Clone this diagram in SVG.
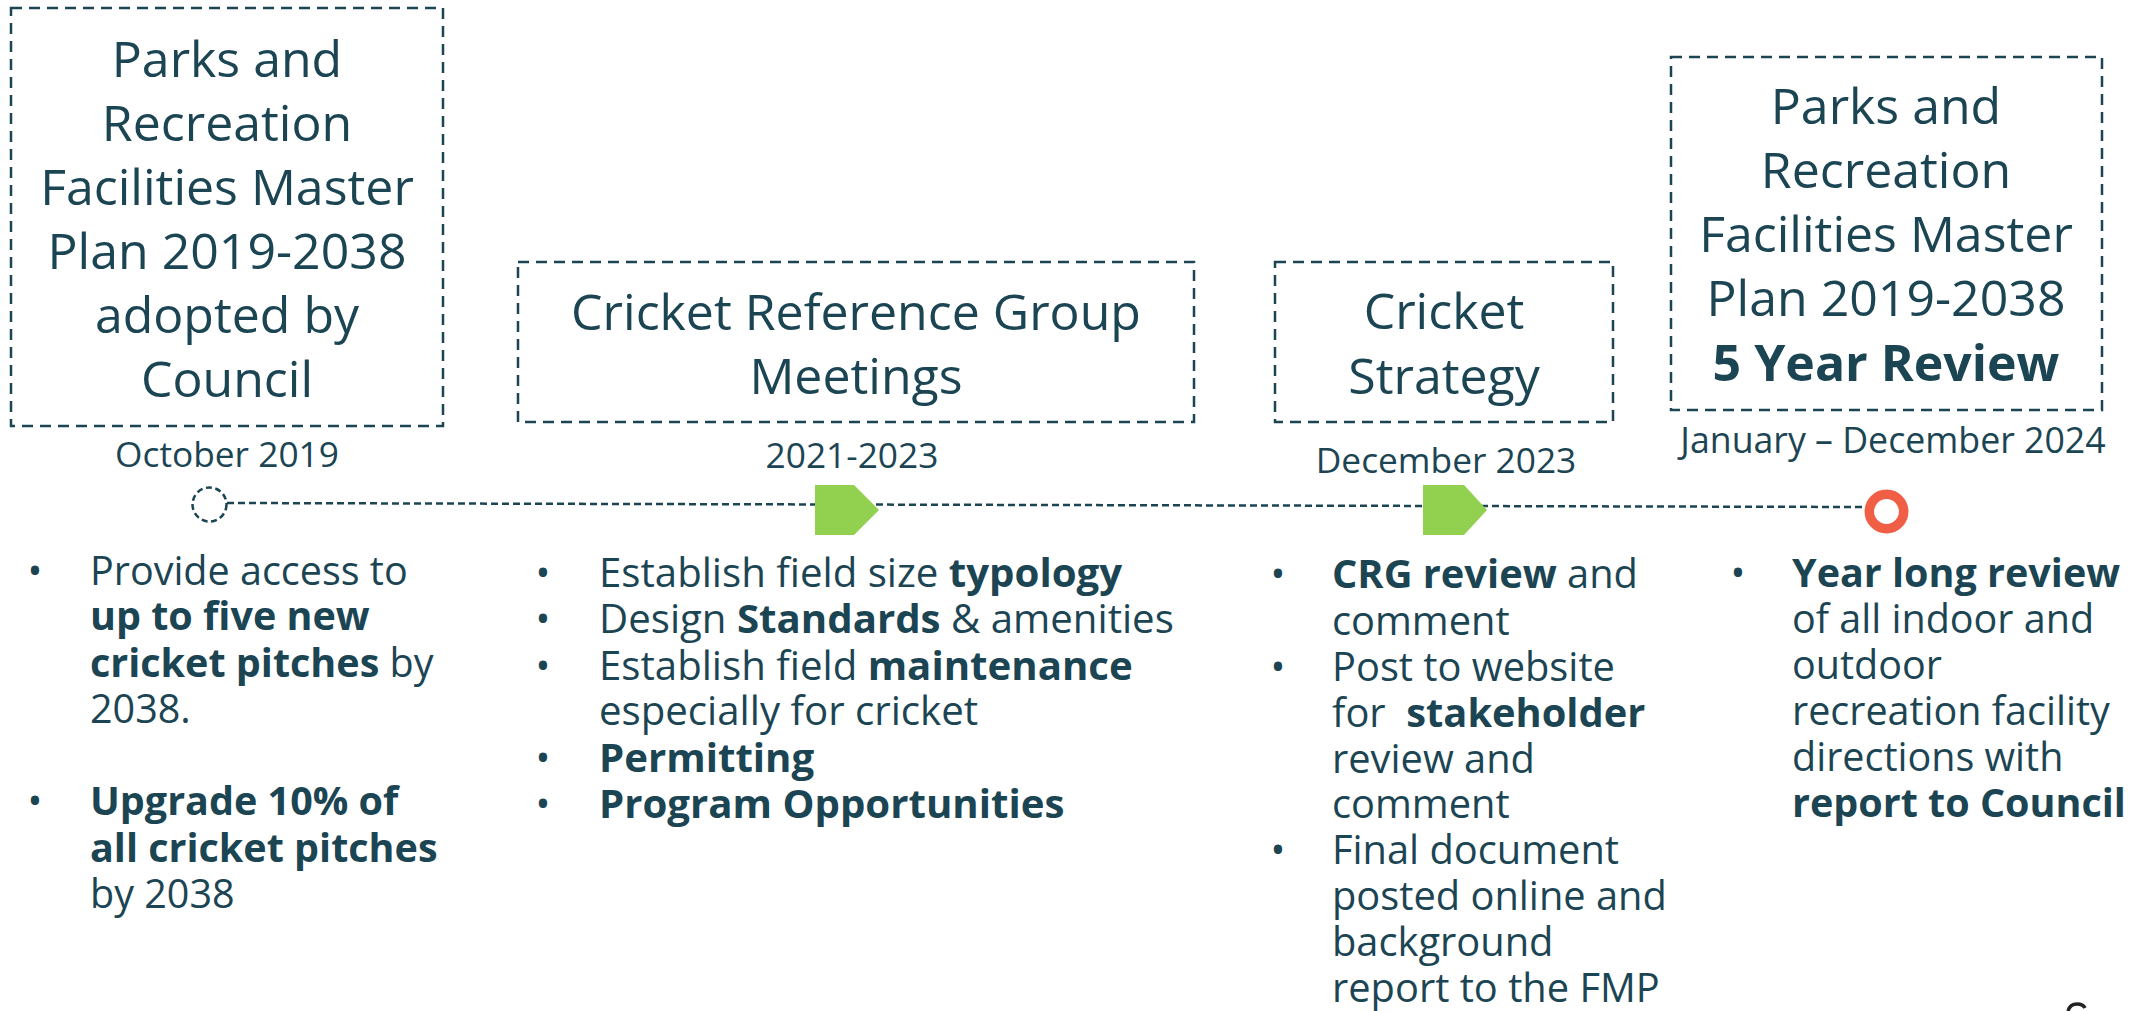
<svg xmlns="http://www.w3.org/2000/svg" width="2136" height="1011" viewBox="0 0 2136 1011">
<style>
text{font-family:"Open Sans","Noto Sans","Liberation Sans",sans-serif;fill:#1C4554}
.title{font-size:50px;text-anchor:middle}
.date{font-size:35.3px;text-anchor:middle}
.body{font-size:39.5px}
.c2{font-size:40.2px}
.c3{font-size:39.8px}
.bul{font-size:39.5px;text-anchor:middle}
.b{font-weight:700}
.box{fill:none;stroke:#1C4554;stroke-width:2.5;stroke-dasharray:11 7}
.pent{fill:#92D050}
</style>
<rect width="2136" height="1011" fill="#FFFFFF"/>
<g id="connectors">
<line x1="227" y1="503" x2="1864" y2="507" stroke="#1C4554" stroke-width="2.5" stroke-dasharray="7 4"/>
</g>
<g id="node-2019">
<rect class="box" x="11" y="8" width="432" height="418"/>
<text class="title"><tspan x="227" y="77">Parks and</tspan><tspan x="227" y="141">Recreation</tspan><tspan x="227" y="205">Facilities Master</tspan><tspan x="227" y="269">Plan 2019-2038</tspan><tspan x="227" y="333">adopted by</tspan><tspan x="227" y="397">Council</tspan></text>
<text class="date" x="227" y="467">October 2019</text>
<circle cx="209.5" cy="504.5" r="17" fill="#FFFFFF" stroke="#1C4554" stroke-width="2.5" stroke-dasharray="6 3.5"/>
<text class="bul" x="35" y="585">•</text>
<text class="body" x="90" y="585">Provide access to</text>
<text class="body b" x="90" y="630">up to five new</text>
<text class="body" x="90" y="677"><tspan class="b">cricket pitches</tspan> by</text>
<text class="body" x="90" y="723">2038.</text>
<text class="bul" x="35" y="815">•</text>
<text class="body b" x="90" y="815">Upgrade 10% of</text>
<text class="body b" x="90" y="862">all cricket pitches</text>
<text class="body" x="90" y="908">by 2038</text>
</g>
<g id="node-crg">
<rect class="box" x="518" y="262" width="676" height="160"/>
<text class="title"><tspan x="856" y="330">Cricket Reference Group</tspan><tspan x="856" y="394">Meetings</tspan></text>
<text class="date" x="852" y="468">2021-2023</text>
<polygon class="pent" points="815,485 854,485 879,510 854,535 815,535"/>
<text class="bul" x="543" y="587">•</text>
<text class="body c2" x="599" y="587">Establish field size <tspan class="b">typology</tspan></text>
<text class="bul" x="543" y="633">•</text>
<text class="body c2" x="599" y="633">Design <tspan class="b">Standards</tspan> &amp; amenities</text>
<text class="bul" x="543" y="680">•</text>
<text class="body c2" x="599" y="680">Establish field <tspan class="b">maintenance</tspan></text>
<text class="body c2" x="599" y="725">especially for cricket</text>
<text class="bul" x="543" y="772">•</text>
<text class="body c2 b" x="599" y="772">Permitting</text>
<text class="bul" x="543" y="818">•</text>
<text class="body c2 b" x="599" y="818">Program Opportunities</text>
</g>
<g id="node-strategy">
<rect class="box" x="1275" y="262" width="338" height="160"/>
<text class="title"><tspan x="1444" y="329">Cricket</tspan><tspan x="1444" y="394">Strategy</tspan></text>
<text class="date" x="1446" y="473">December 2023</text>
<polygon class="pent" points="1423,485 1464,485 1487,510 1464,535 1423,535"/>
<text class="bul" x="1278" y="588">•</text>
<text class="body c3" x="1332" y="588"><tspan class="b">CRG review</tspan> and</text>
<text class="body c3" x="1332" y="635">comment</text>
<text class="bul" x="1278" y="681">•</text>
<text class="body c3" x="1332" y="681">Post to website</text>
<text class="body c3" x="1332" y="727" style="white-space:pre">for  <tspan class="b">stakeholder</tspan></text>
<text class="body c3" x="1332" y="773">review and</text>
<text class="body c3" x="1332" y="818">comment</text>
<text class="bul" x="1278" y="864">•</text>
<text class="body c3" x="1332" y="864">Final document</text>
<text class="body c3" x="1332" y="910">posted online and</text>
<text class="body c3" x="1332" y="956">background</text>
<text class="body c3" x="1332" y="1002">report to the FMP</text>
</g>
<g id="node-review">
<rect class="box" x="1671" y="57" width="431" height="353"/>
<text class="title"><tspan x="1886" y="124">Parks and</tspan><tspan x="1886" y="188">Recreation</tspan><tspan x="1886" y="252">Facilities Master</tspan><tspan x="1886" y="316">Plan 2019-2038</tspan><tspan class="b" x="1886" y="381">5 Year Review</tspan></text>
<text class="date" x="1893" y="453" style="font-size:35.7px">January – December 2024</text>
<circle cx="1886.5" cy="511.5" r="17.2" fill="#FFFFFF" stroke="#F05E46" stroke-width="9.5"/>
<text class="bul" x="1738" y="587">•</text>
<text class="body" x="1792" y="587"><tspan class="b">Year long review</tspan></text>
<text class="body" x="1792" y="633">of all indoor and</text>
<text class="body" x="1792" y="679">outdoor</text>
<text class="body" x="1792" y="725">recreation facility</text>
<text class="body" x="1792" y="771">directions with</text>
<text class="body b" x="1792" y="817">report to Council</text>
</g>
<path d="M2068,1011 Q2070,1004 2077,1004 Q2083,1004 2085,1008" fill="none" stroke="#222222" stroke-width="3.5"/>
</svg>
